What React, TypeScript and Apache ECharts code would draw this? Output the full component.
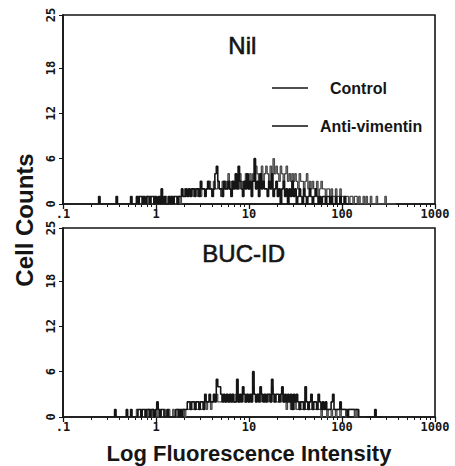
import React, { useEffect, useRef } from "react";
import * as echarts from "echarts";

// ---- data (cell counts per fluorescence channel, 64 channels per decade) ----
const xTickLabels = [".1", "1", "10", "100", "1000"];
const yTickValues = [0, 6, 12, 18, 25];
const channelStart = 20;
const channelsPerDecade = 64;
const decades = 4;
const minorMultipliers = [2, 3, 4, 5, 6, 7, 8, 9];

const nilControl = [
  0, 0, 0, 0, 0, 1, 0, 0, 0, 0,
  0, 0, 0, 0, 0, 0, 0, 1, 0, 0,
  0, 0, 0, 0, 0, 0, 0, 1, 0, 0,
  0, 1, 0, 1, 1, 0, 1, 0, 1, 1,
  0, 1, 1, 0, 1, 0, 1, 0, 2, 0,
  1, 0, 0, 1, 0, 1, 0, 1, 1, 0,
  1, 1, 2, 1, 1, 2, 1, 2, 1, 2,
  2, 1, 2, 2, 1, 3, 2, 2, 1, 2,
  3, 2, 2, 1, 2, 4, 5, 3, 2, 2,
  1, 3, 2, 2, 3, 2, 1, 3, 2, 4,
  2, 5, 3, 2, 1, 3, 2, 4, 2, 3,
  1, 3, 6, 2, 3, 1, 4, 2, 3, 2,
  2, 1, 3, 2, 4, 1, 2, 3, 1, 2,
  0, 2, 3, 1, 2, 0, 2, 1, 3, 1,
  2, 0, 1, 2, 1, 0, 2, 1, 0, 1,
  2, 1, 0, 1, 2, 1, 0, 1, 0, 1,
  1, 0, 1, 1, 0, 1, 0, 0, 1, 0,
  0, 1, 0, 0, 1, 0, 0, 0, 0, 0,
];

const nilAntiVimentin = [
  0, 0, 0, 0, 0, 0, 0, 0, 0, 0,
  0, 0, 0, 0, 0, 0, 0, 0, 0, 0,
  0, 0, 0, 0, 0, 0, 0, 0, 0, 0,
  0, 0, 1, 0, 0, 1, 0, 0, 1, 0,
  1, 0, 0, 1, 0, 0, 0, 1, 0, 0,
  0, 1, 0, 0, 1, 0, 1, 0, 0, 1,
  1, 0, 1, 1, 2, 1, 1, 2, 1, 2,
  1, 2, 2, 1, 2, 1, 2, 2, 1, 2,
  2, 3, 2, 1, 3, 2, 2, 3, 2, 1,
  3, 2, 3, 2, 4, 2, 3, 2, 3, 3,
  3, 2, 4, 3, 2, 3, 4, 3, 2, 4,
  3, 4, 3, 5, 4, 3, 4, 5, 3, 4,
  5, 4, 3, 5, 4, 6, 4, 5, 4, 3,
  5, 4, 3, 4, 5, 3, 4, 3, 4, 3,
  4, 3, 2, 4, 3, 3, 2, 3, 4, 2,
  3, 2, 3, 2, 2, 3, 1, 2, 3, 2,
  2, 1, 2, 2, 1, 2, 1, 1, 2, 1,
  1, 2, 1, 1, 0, 1, 1, 0, 1, 1,
  0, 1, 1, 0, 1, 0, 0, 1, 0, 1,
  0, 0, 1, 0, 0, 0, 1, 0, 0, 0,
  0, 0, 1, 0, 0, 0, 0, 0, 0, 0,
];

const bucControl = [
  0, 0, 0, 0, 0, 0, 0, 0, 0, 0,
  0, 0, 0, 0, 0, 0, 1, 0, 0, 0,
  0, 0, 0, 0, 1, 0, 0, 1, 0, 0,
  0, 0, 1, 1, 0, 1, 1, 0, 1, 1,
  0, 1, 1, 0, 1, 2, 1, 0, 1, 1,
  0, 0, 1, 0, 0, 0, 0, 0, 1, 1,
  0, 1, 0, 1, 1, 1, 2, 2, 1, 2,
  2, 1, 2, 2, 1, 2, 2, 1, 3, 2,
  2, 3, 2, 2, 3, 2, 5, 4, 4, 3,
  2, 3, 2, 3, 2, 3, 2, 3, 2, 2,
  5, 2, 3, 2, 4, 3, 2, 3, 2, 3,
  2, 6, 3, 2, 3, 2, 4, 3, 2, 3,
  2, 3, 3, 2, 5, 3, 2, 3, 3, 2,
  3, 4, 2, 3, 2, 3, 2, 3, 1, 3,
  2, 3, 2, 1, 2, 2, 1, 4, 2, 1,
  2, 3, 1, 2, 2, 1, 3, 2, 1, 2,
  1, 2, 1, 1, 1, 2, 3, 1, 1, 1,
  1, 2, 1, 1, 1, 1, 0, 1, 1, 1,
  1, 1, 1, 1, 0, 0, 0, 0, 0, 0,
  0, 0, 0, 0, 0, 1, 0, 0, 0, 0,
];

const bucAntiVimentin = [
  0, 0, 0, 0, 0, 0, 0, 0, 0, 0,
  0, 0, 0, 0, 0, 0, 0, 0, 0, 0,
  0, 0, 0, 0, 0, 0, 0, 0, 0, 0,
  0, 1, 0, 0, 1, 0, 0, 1, 0, 1,
  1, 0, 1, 0, 0, 1, 0, 1, 0, 0,
  1, 0, 0, 1, 0, 0, 1, 0, 0, 1,
  1, 0, 1, 1, 0, 1, 1, 1, 2, 1,
  1, 2, 1, 1, 2, 1, 1, 2, 2, 1,
  2, 2, 1, 2, 2, 3, 3, 2, 2, 2,
  3, 2, 2, 3, 2, 2, 3, 2, 2, 3,
  3, 2, 2, 3, 3, 2, 2, 3, 2, 2,
  3, 4, 3, 2, 3, 3, 2, 3, 3, 2,
  3, 2, 3, 2, 4, 2, 3, 2, 2, 3,
  2, 3, 2, 2, 1, 2, 2, 1, 2, 1,
  2, 1, 1, 2, 1, 1, 2, 1, 1, 2,
  1, 1, 2, 1, 1, 1, 1, 1, 0, 1,
  1, 1, 0, 1, 1, 0, 1, 1, 0, 1,
  1, 0, 1, 1, 1, 0, 1, 1, 1, 1,
  1, 0, 1, 0, 0, 0, 0, 0, 0, 0,
];

const panelTitles = ["Nil", "BUC-ID"];
const legendNames = ["Control", "Anti-vimentin"];

const INK = "#151515";
const GRAY = "#4a4a4a";
const MONO = "'DejaVu Sans Mono', 'Liberation Mono', monospace";
const SANS = "'Liberation Sans', Arial, sans-serif";

function toPairs(values: number[]) {
  return values.map((v, i) => [channelStart + i, v]);
}

export default function App() {
  const ref = useRef<HTMLDivElement>(null);

  useEffect(() => {
    if (!ref.current) return;
    const chart = echarts.init(ref.current, undefined, { renderer: "svg" });

    const maxChannel = channelsPerDecade * decades;
    const minorTicks: number[] = [];
    for (let d = 0; d < decades; d++) {
      for (const k of minorMultipliers) {
        minorTicks.push(d * channelsPerDecade + channelsPerDecade * Math.log10(k));
      }
    }

    const grids = [
      { left: 63, top: 15, width: 372, height: 189 },
      { left: 63, top: 228, width: 372, height: 189 },
    ];

    const xAxes: any[] = [];
    const yAxes: any[] = [];
    grids.forEach((_, g) => {
      xAxes.push({
        gridIndex: g,
        type: "value",
        min: 0,
        max: maxChannel,
        interval: channelsPerDecade,
        position: "bottom",
        axisLine: { show: true, lineStyle: { color: INK, width: 1.6 } },
        axisTick: { show: true, length: 5, lineStyle: { color: INK, width: 1.3 } },
        axisLabel: {
          formatter: (v: number) => xTickLabels[Math.round(v / channelsPerDecade)] ?? "",
          fontFamily: MONO,
          fontWeight: "bold",
          fontSize: 12,
          color: INK,
          margin: 4,
          showMinLabel: true,
          showMaxLabel: true,
        },
        splitLine: { show: false },
      });
      xAxes.push({
        gridIndex: g,
        type: "value",
        min: 0,
        max: maxChannel,
        position: "bottom",
        axisLine: { show: false },
        axisTick: { show: true, length: 3, customValues: minorTicks, lineStyle: { color: INK, width: 1 } },
        axisLabel: { show: false },
        splitLine: { show: false },
      });
      yAxes.push({
        gridIndex: g,
        type: "value",
        min: 0,
        max: 25,
        axisLine: { show: true, lineStyle: { color: INK, width: 1.6 } },
        axisTick: { show: true, length: 4, customValues: yTickValues, lineStyle: { color: INK } },
        axisLabel: {
          customValues: yTickValues,
          rotate: 90,
          fontFamily: MONO,
          fontWeight: "bold",
          fontSize: 12,
          color: INK,
          margin: 6,
        },
        splitLine: { show: false },
      });
    });

    const lineSeries = (data: number[], g: number, color: string, width: number) => ({
      type: "line",
      xAxisIndex: g * 2,
      yAxisIndex: g,
      data: toPairs(data),
      step: "middle",
      showSymbol: false,
      symbol: "none",
      lineStyle: { color, width },
      silent: true,
    });

    const graphic: any[] = [
      {
        type: "text",
        left: 228,
        top: 33,
        style: { text: panelTitles[0], font: `24px ${SANS}`, fill: INK, stroke: INK, lineWidth: 0.6 },
      },
      {
        type: "text",
        left: 202,
        top: 241,
        style: { text: panelTitles[1], font: `24px ${SANS}`, fill: INK, stroke: INK, lineWidth: 0.6 },
      },
      { type: "line", shape: { x1: 272, y1: 88, x2: 308, y2: 88 }, style: { stroke: INK, lineWidth: 1.6 } },
      { type: "line", shape: { x1: 272, y1: 126, x2: 308, y2: 126 }, style: { stroke: GRAY, lineWidth: 1.8 } },
      {
        type: "text",
        x: 330,
        y: 88,
        style: { text: legendNames[0], font: `bold 16px ${SANS}`, fill: INK, verticalAlign: "middle" },
      },
      {
        type: "text",
        x: 320,
        y: 126,
        style: { text: legendNames[1], font: `bold 16px ${SANS}`, fill: INK, verticalAlign: "middle" },
      },
      {
        type: "text",
        x: 24,
        y: 220,
        rotation: Math.PI / 2,
        style: {
          text: "Cell Counts",
          font: `bold 24px ${SANS}`,
          fill: INK,
          align: "center",
          verticalAlign: "middle",
        },
      },
      {
        type: "text",
        x: 249,
        y: 453,
        style: {
          text: "Log Fluorescence Intensity",
          font: `bold 22px ${SANS}`,
          fill: INK,
          align: "center",
          verticalAlign: "middle",
        },
      },
    ];

    chart.setOption({
      animation: false,
      backgroundColor: "#ffffff",
      grid: grids.map((gr) => ({ ...gr, show: true, borderColor: INK, borderWidth: 1.6, backgroundColor: "transparent" })),
      xAxis: xAxes,
      yAxis: yAxes,
      series: [
        lineSeries(nilAntiVimentin, 0, GRAY, 1.3),
        lineSeries(nilControl, 0, INK, 1.6),
        lineSeries(bucAntiVimentin, 1, GRAY, 1.3),
        lineSeries(bucControl, 1, INK, 1.6),
      ],
      graphic,
    });

    return () => chart.dispose();
  }, []);

  return (
    <div
      ref={ref}
      style={{ position: "fixed", left: 0, top: 0, width: 455, height: 466, background: "#fff" }}
    />
  );
}
